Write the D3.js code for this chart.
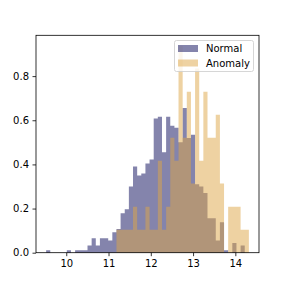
<!DOCTYPE html>
<html>
<head>
<meta charset="utf-8">
<script src="https://cdn.jsdelivr.net/npm/d3@7"></script>
<style>
body{margin:0;background:#fff}
svg{display:block}
text{font-family:"DejaVu Sans",sans-serif}
</style>
</head>
<body>
<svg width="288" height="288"></svg>
<script>
const width = 288
const height = 288
// histogram bins shared by both series
const binLo = 9.524
const binHi = 14.32
const binCount = 49
// density per bin
const normalDensity = [0.011,0,0,0,0,0.011,0,0.011,0.011,0.011,
  0.033,0.066,0.033,0.066,0.066,0.055,0.093,0.107,0.179,0.197,
  0.300,0.390,0.350,0.359,0.404,0.422,0.608,0.616,0.455,0.616,
  0.575,0.566,0.500,0.656,0.520,0.534,0.310,0.300,0.270,0.156,
  0.156,0.055,0.138,0.011,0,0.044,0,0.033,0]
const anomalyDensity = [0,0,0,0,0,0,0,0,0,0,
  0,0,0,0,0,0,0,0.104,0.104,0.104,
  0.104,0.208,0.104,0.104,0.208,0.104,0.104,0.417,0.104,0.208,
  0.521,0.417,0.938,0.521,0.729,0.313,0.834,0.417,0.729,0.521,
  0.521,0.625,0.313,0,0.208,0.208,0.208,0.104,0.104]
const seriesNames = ["Normal", "Anomaly"]
const seriesColors = ["#0a0a5a", "#dda646"]
const xTicks = [10, 11, 12, 13, 14]
const yTicks = [0, 0.2, 0.4, 0.6, 0.8]

const plotL = 36, plotR = 259, plotT = 35.3, plotB = 252.7
const binW = (binHi - binLo) / binCount
const pad = (binHi - binLo) * 0.05
const yMax = d3.max(normalDensity.concat(anomalyDensity)) * 1.05

const x = d3.scaleLinear().domain([binLo - pad, binHi + pad]).range([plotL, plotR])
const y = d3.scaleLinear().domain([0, yMax]).range([plotB, plotT])

const svg = d3.select("svg")

const area = d3.area()
  .curve(d3.curveStepAfter)
  .x(d => x(d[0]))
  .y0(y(0))
  .y1(d => y(d[1]))

function steps(vals){
  const pts = vals.map((v, i) => [binLo + i * binW, v])
  pts.push([binHi, vals[vals.length - 1]])
  return pts
}

const series = [normalDensity, anomalyDensity]
series.forEach(function(vals, i){
  svg.append("path")
    .attr("d", area(steps(vals)))
    .attr("fill", seriesColors[i])
    .attr("fill-opacity", 0.5)
})

// axes
const gx = svg.append("g").attr("transform", "translate(0," + plotB + ")")
  .call(d3.axisBottom(x).tickValues(xTicks).tickFormat(d3.format("d")).tickSizeInner(3.5).tickSizeOuter(0).tickPadding(3.5))
const gy = svg.append("g").attr("transform", "translate(" + plotL + ",0)")
  .call(d3.axisLeft(y).tickValues(yTicks).tickFormat(d3.format(".1f")).tickSizeInner(3.5).tickSizeOuter(0).tickPadding(3.5))
svg.selectAll(".domain").remove()
svg.selectAll(".tick line").attr("stroke", "#000").attr("stroke-width", 0.8)
svg.selectAll(".tick text").attr("font-size", 10).attr("fill", "#000")
  .style("font-family", "DejaVu Sans")

// frame
svg.append("rect")
  .attr("x", plotL).attr("y", plotT)
  .attr("width", plotR - plotL).attr("height", plotB - plotT)
  .attr("fill", "none").attr("stroke", "#000").attr("stroke-width", 0.8)

// legend
const lg = svg.append("g").attr("transform", "translate(174.5,40.5)")
lg.append("rect")
  .attr("width", 79).attr("height", 31).attr("rx", 2)
  .attr("fill", "#fff").attr("fill-opacity", 0.8)
  .attr("stroke", "#ccc").attr("stroke-width", 0.8)
seriesNames.forEach(function(name, i){
  lg.append("rect")
    .attr("x", 3.5).attr("y", 4.5 + i * 14.5)
    .attr("width", 20).attr("height", 7)
    .attr("fill", seriesColors[i]).attr("fill-opacity", 0.5)
  lg.append("text")
    .attr("x", 31.5).attr("y", 11.8 + i * 14.5)
    .attr("font-size", 10).attr("fill", "#000")
    .text(name)
})
</script>
</body>
</html>
